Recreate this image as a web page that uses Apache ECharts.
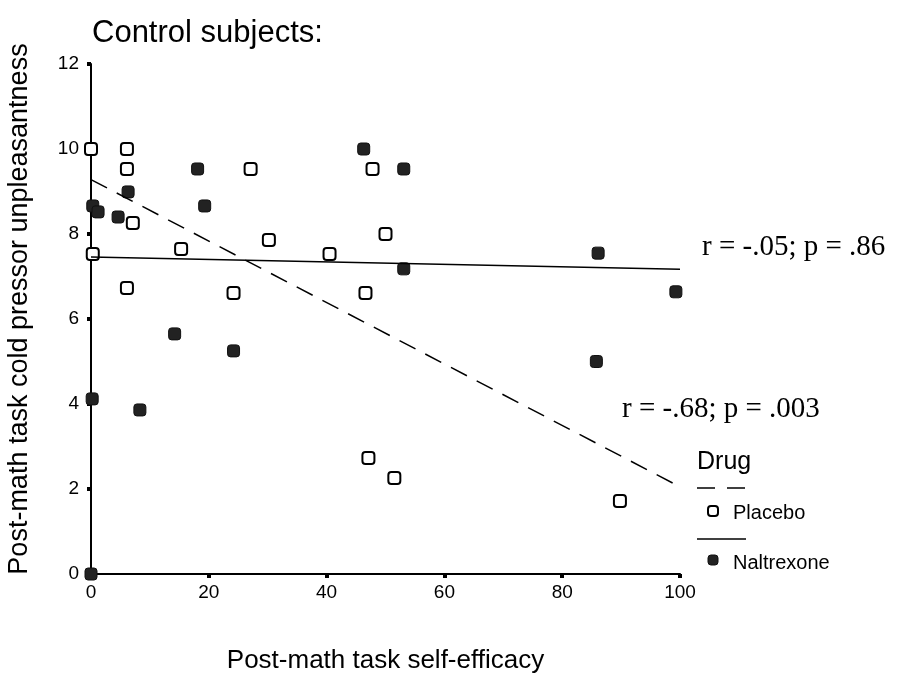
<!DOCTYPE html>
<html>
<head>
<meta charset="utf-8">
<script src="https://cdn.jsdelivr.net/npm/echarts@6/dist/echarts.min.js"></script>
<style>
  html, body { margin: 0; padding: 0; background: #fff; }
  #chart { width: 899px; height: 682px; }
</style>
</head>
<body>
<div id="chart"></div>
<script>
// Self-efficacy vs. cold pressor unpleasantness, control subjects
const xTicks = [0, 20, 40, 60, 80, 100];
const yTicks = [0, 2, 4, 6, 8, 10, 12];

const placeboX = [0, 0.3, 6.1, 6.1, 7.1, 27.1, 30.2, 15.3, 6.1, 24.2, 47.8, 50, 40.5, 46.6, 47.1, 51.5, 89.8];
const placeboY = [10.0, 7.53, 10.0, 9.53, 8.26, 9.53, 7.86, 7.65, 6.73, 6.61, 9.53, 8.0, 7.53, 6.61, 2.73, 2.26, 1.72];

const naltrexoneX = [0, 0.3, 1.2, 4.6, 6.3, 18.1, 19.3, 14.2, 24.2, 0.2, 8.3, 46.3, 53.1, 53.1, 86.1, 99.3, 85.8];
const naltrexoneY = [0, 8.66, 8.52, 8.40, 8.99, 9.53, 8.66, 5.65, 5.25, 4.12, 3.86, 10.0, 9.53, 7.18, 7.55, 6.64, 5.0];

// Fitted regression lines (x, y at the ends of the axis)
const placeboFitX = [0, 100];
const placeboFitY = [9.28, 2.05];
const naltrexoneFitX = [0, 100];
const naltrexoneFitY = [7.46, 7.17];

const pairs = (xs, ys) => xs.map((x, i) => [x, ys[i]]);

const sans = '"Liberation Sans", Arial, sans-serif';
const serif = '"Liberation Serif", "Times New Roman", serif';
const dash = [18, 11];
const fillDark = '#222';

const chart = echarts.init(document.getElementById('chart'));
chart.setOption({
  animation: false,
  backgroundColor: '#fff',
  grid: { left: 91, right: 219, top: 64, bottom: 108, containLabel: false, outerBoundsMode: 'none' },
  xAxis: {
    type: 'value', min: xTicks[0], max: xTicks[xTicks.length - 1], interval: 20,
    name: 'Post-math task self-efficacy',
    nameLocation: 'middle', nameGap: 74,
    nameTextStyle: { fontFamily: sans, fontSize: 26, color: '#000' },
    axisLine: { lineStyle: { color: '#000', width: 2 } },
    axisTick: { length: 4, lineStyle: { color: '#000', width: 4 } },
    axisLabel: { fontFamily: sans, fontSize: 19, color: '#000', margin: 9 },
    splitLine: { show: false }
  },
  yAxis: {
    type: 'value', min: yTicks[0], max: yTicks[yTicks.length - 1], interval: 2,
    axisLine: { show: true, lineStyle: { color: '#000', width: 2 } },
    axisTick: { show: true, length: 4, lineStyle: { color: '#000', width: 4 } },
    axisLabel: { fontFamily: sans, fontSize: 19, color: '#000', margin: 12 },
    splitLine: { show: false }
  },
  series: [
    {
      name: 'Placebo fit', type: 'line', data: pairs(placeboFitX, placeboFitY),
      symbol: 'none', silent: true,
      lineStyle: { color: '#000', width: 1.5, type: dash }
    },
    {
      name: 'Naltrexone fit', type: 'line', data: pairs(naltrexoneFitX, naltrexoneFitY),
      symbol: 'none', silent: true,
      lineStyle: { color: '#000', width: 1.5 }
    },
    {
      name: 'Naltrexone', type: 'scatter', data: pairs(naltrexoneX, naltrexoneY),
      symbol: 'roundRect', symbolSize: 12,
      itemStyle: { color: fillDark, borderColor: '#111', borderWidth: 1, opacity: 1 }
    },
    {
      name: 'Placebo', type: 'scatter', data: pairs(placeboX, placeboY),
      symbol: 'roundRect', symbolSize: 12,
      itemStyle: { color: '#fff', borderColor: '#000', borderWidth: 2, opacity: 1 }
    }
  ],
  graphic: [
    { type: 'text', x: 92, y: 33,
      style: { text: 'Control subjects:', font: '31px ' + sans, fill: '#000', verticalAlign: 'middle' } },
    { type: 'text', x: 20, y: 309, rotation: Math.PI / 2,
      style: { text: 'Post-math task cold pressor unpleasantness', font: '27px ' + sans, fill: '#000',
               align: 'center', verticalAlign: 'middle' } },
    { type: 'text', x: 702, y: 247,
      style: { text: 'r = -.05; p = .86', font: '29px ' + serif, fill: '#000', verticalAlign: 'middle' } },
    { type: 'text', x: 622, y: 409,
      style: { text: 'r = -.68; p = .003', font: '29px ' + serif, fill: '#000', verticalAlign: 'middle' } },
    // Legend
    { type: 'text', x: 697, y: 462,
      style: { text: 'Drug', font: '25px ' + sans, fill: '#000', verticalAlign: 'middle' } },
    { type: 'line', shape: { x1: 697, y1: 488, x2: 746, y2: 488 },
      style: { stroke: '#000', lineWidth: 1.5, lineDash: [18, 12] } },
    { type: 'rect', shape: { x: 708, y: 506, width: 10, height: 10, r: 3 },
      style: { fill: '#fff', stroke: '#000', lineWidth: 2 } },
    { type: 'text', x: 733, y: 513,
      style: { text: 'Placebo', font: '20px ' + sans, fill: '#000', verticalAlign: 'middle' } },
    { type: 'line', shape: { x1: 697, y1: 539, x2: 746, y2: 539 },
      style: { stroke: '#000', lineWidth: 1.5 } },
    { type: 'rect', shape: { x: 708, y: 555, width: 10, height: 10, r: 3 },
      style: { fill: fillDark, stroke: '#111', lineWidth: 1 } },
    { type: 'text', x: 733, y: 563,
      style: { text: 'Naltrexone', font: '20px ' + sans, fill: '#000', verticalAlign: 'middle' } }
  ]
});
</script>
</body>
</html>
